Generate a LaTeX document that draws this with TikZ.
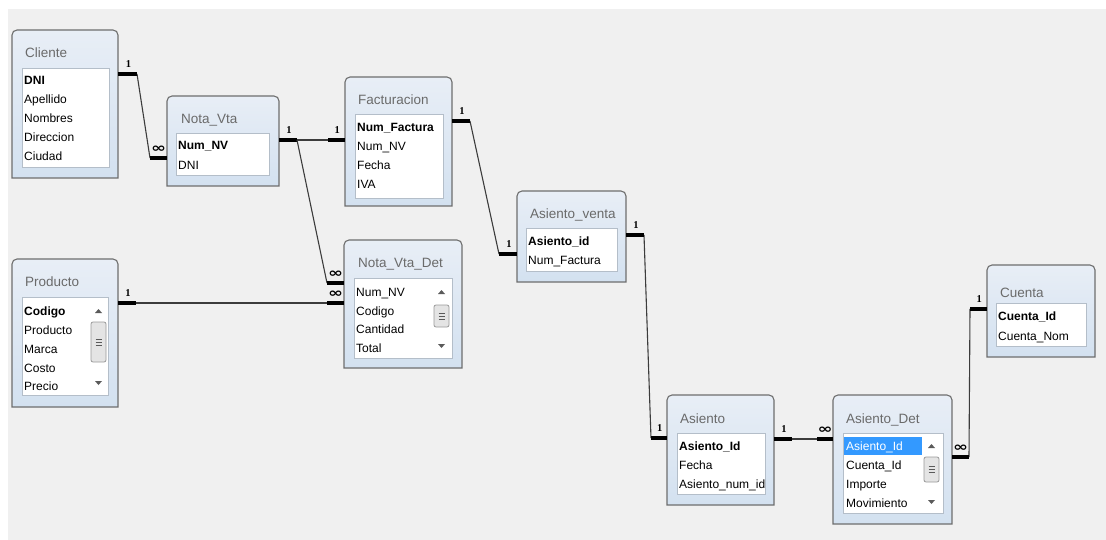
\documentclass[tikz,border=0pt]{standalone}
\usepackage{fontspec}
\usepackage{graphicx}
\setmainfont{Liberation Sans}
\newfontfamily\symfont{DejaVu Sans}
\newfontfamily\onefont{Liberation Serif}
\usetikzlibrary{fit}
\definecolor{bggray}{HTML}{F0F0F0}
\definecolor{frame}{HTML}{6E6E6E}
\definecolor{boxtop}{HTML}{E8EEF6}
\definecolor{boxbot}{HTML}{D3E1F0}
\definecolor{titlegray}{HTML}{6A6A6A}
\definecolor{listedge}{HTML}{B4BEC9}
\definecolor{linegray}{HTML}{3C3C3C}
\definecolor{selblue}{HTML}{3399FF}
\definecolor{arrowgray}{HTML}{5A5A5A}
\definecolor{thumbedge}{HTML}{9A9A9A}
\definecolor{thumbfill}{HTML}{E4E4E4}

\newcommand\dbbox[5]{%
  \node[fit={(#2,#3) (#4,#5)}, inner sep=0pt, outer sep=0pt] (#1) {};
  \path[tblframe] (#1.south west) -- ([yshift=-5pt]#1.north west)
    arc[start angle=180,end angle=90,radius=5pt] -- ([xshift=-5pt]#1.north east)
    arc[start angle=90,end angle=0,radius=5pt] -- (#1.south east) -- cycle;
}
\newcommand\sbar[7]{% name, x1, x2, yup, thumbtop, thumbbot, ydown
  \node[fit={(#2,#4) (#3,#7)}, inner sep=0pt] (#1) {};
  \fill[arrowgray] ({(#2+#3)/2-3.5},{#4+2}) -- ({(#2+#3)/2+3.5},{#4+2}) -- ({(#2+#3)/2},{#4-2}) -- cycle;
  \fill[arrowgray] ({(#2+#3)/2-3.5},{#7-2}) -- ({(#2+#3)/2+3.5},{#7-2}) -- ({(#2+#3)/2},{#7+2}) -- cycle;
  \draw[draw=thumbedge, fill=thumbfill, rounded corners=2pt, line width=0.8pt] ({#2+1},#5) rectangle ({#3-1},#6);
  \draw[arrowgray, line width=0.6pt]
    ({(#2+#3)/2-3},{(#5+#6)/2-3}) -- ({(#2+#3)/2+3},{(#5+#6)/2-3})
    ({(#2+#3)/2-3},{(#5+#6)/2}) -- ({(#2+#3)/2+3},{(#5+#6)/2})
    ({(#2+#3)/2-3},{(#5+#6)/2+3}) -- ({(#2+#3)/2+3},{(#5+#6)/2+3});
}
\newcommand\infsym{\resizebox{15pt}{6.5pt}{\symfont\bfseries ∞}}

\begin{document}
\begin{tikzpicture}[x=1pt,y=-1pt,
  tblframe/.style={draw=frame, line width=1.1pt, top color=boxtop, bottom color=boxbot},
  ttl/.style={anchor=base west, text=titlegray, font=\fontsize{13.5}{14}\selectfont, inner sep=0pt},
  fld/.style={anchor=base west, font=\fontsize{12}{13}\selectfont, inner sep=0pt},
  pk/.style={anchor=base west, font=\fontsize{12}{13}\selectfont\bfseries, inner sep=0pt},
  flist/.style={fill=white, draw=listedge, line width=0.8pt},
  thinrel/.style={draw=linegray, line width=1.1pt},
  stubrel/.style={draw=black, line width=3.3pt},
  one/.style={pos=0.55, anchor=south, yshift=4.5pt, inner sep=0pt, font=\onefont\bfseries\fontsize{10.5}{10.5}\selectfont},
  many/.style={pos=0.5, anchor=south, yshift=3.5pt, inner sep=0pt}
]
\useasboundingbox (0,0) rectangle (1106,540);
\fill[white] (0,0) rectangle (1106,540);
\fill[bggray] (8,9) rectangle (1106,540);

% ---------- Cliente ----------
\dbbox{cliente}{12}{30}{118}{178}
\node[ttl] (cliente-t) at (25,58) {Cliente};
\draw[flist] (22,68) rectangle (109,167);
\node[pk]  (cliente-f1) at (24,85)  {DNI};
\node[fld] (cliente-f2) at (24,104) {Apellido};
\node[fld] (cliente-f3) at (24,123) {Nombres};
\node[fld] (cliente-f4) at (24,142) {Direccion};
\node[fld] (cliente-f5) at (24,161) {Ciudad};

% ---------- Nota_Vta ----------
\dbbox{nvta}{167}{96}{279}{186}
\node[ttl] (nvta-t) at (181,124) {Nota\_Vta};
\draw[flist] (176,133) rectangle (269,175);
\node[pk]  (nvta-f1) at (178,150) {Num\_NV};
\node[fld] (nvta-f2) at (178,170) {DNI};

% ---------- Facturacion ----------
\dbbox{fact}{345}{77}{452}{206}
\node[ttl] (fact-t) at (358,105) {Facturacion};
\draw[flist] (355,114) rectangle (443,198);
\node[pk]  (fact-f1) at (357,132) {Num\_Factura};
\node[fld] (fact-f2) at (357,151) {Num\_NV};
\node[fld] (fact-f3) at (357,170) {Fecha};
\node[fld] (fact-f4) at (357,189) {IVA};

% ---------- Producto ----------
\dbbox{prod}{12}{259}{118}{407}
\node[ttl] (prod-t) at (25,287) {Producto};
\draw[flist] (22,297) rectangle (108,395);
\node[pk]  (prod-f1) at (24,315) {Codigo};
\node[fld] (prod-f2) at (24,334) {Producto};
\node[fld] (prod-f3) at (24,353) {Marca};
\node[fld] (prod-f4) at (24,372) {Costo};
\node[fld] (prod-f5) at (24,390) {Precio};
\sbar{prod-s}{90}{107}{311}{322}{362}{383}

% ---------- Nota_Vta_Det ----------
\dbbox{nvd}{344}{240}{462}{368}
\node[ttl] (nvd-t) at (358,268) {Nota\_Vta\_Det};
\draw[flist] (354,278) rectangle (452,358);
\node[fld] (nvd-f1) at (356,296) {Num\_NV};
\node[fld] (nvd-f2) at (356,315) {Codigo};
\node[fld] (nvd-f3) at (356,333) {Cantidad};
\node[fld] (nvd-f4) at (356,352) {Total};
\sbar{nvd-s}{433}{450}{292}{305}{327}{346}

% ---------- Asiento_venta ----------
\dbbox{av}{517}{191}{626}{282}
\node[ttl] (av-t) at (530,219) {Asiento\_venta};
\draw[flist] (526,228) rectangle (617,271);
\node[pk]  (av-f1) at (528,246) {Asiento\_id};
\node[fld] (av-f2) at (528,265) {Num\_Factura};

% ---------- Asiento ----------
\dbbox{as}{667}{395}{774}{505}
\node[ttl] (as-t) at (680,423) {Asiento};
\draw[flist] (677,433) rectangle (765,494);
\node[pk]  (as-f1) at (679,450) {Asiento\_Id};
\node[fld] (as-f2) at (679,469) {Fecha};
\begin{scope}
  \clip (677,433) rectangle (764.5,494);
  \node[fld] (as-f3) at (679,488) {Asiento\_num\_id};
\end{scope}

% ---------- Asiento_Det ----------
\dbbox{ad}{833}{395}{952}{524}
\node[ttl] (ad-t) at (846,423) {Asiento\_Det};
\draw[flist] (843,433) rectangle (943,513);
\fill[selblue] (844,437) rectangle (922,455);
\node[fld, text=white] (ad-f1) at (846,450) {Asiento\_Id};
\node[fld] (ad-f2) at (846,469) {Cuenta\_Id};
\node[fld] (ad-f3) at (846,488) {Importe};
\node[fld] (ad-f4) at (846,507) {Movimiento};
\sbar{ad-s}{923}{940}{446}{457}{482}{502}

% ---------- Cuenta ----------
\dbbox{cta}{987}{265}{1095}{357}
\node[ttl] (cta-t) at (1000,297) {Cuenta};
\draw[flist] (996,303) rectangle (1086,346);
\node[pk]  (cta-f1) at (998,320) {Cuenta\_Id};
\node[fld] (cta-f2) at (998,340) {Cuenta\_Nom};

% ---------- Relationships ----------
% Cliente -> Nota_Vta
\path (cliente.east |- 0,74) coordinate (r1s) ++(19,0) coordinate (r1a);
\path (nvta.west |- 0,158) coordinate (r1e) ++(-17,0) coordinate (r1b);
\draw[thinrel] (r1a) -- (r1b);
\draw[stubrel] (r1s) -- (r1a) node[one] (r1l1) {1};
\draw[stubrel] (r1b) -- (r1e) node[many] (r1l2) {\infsym};

% Nota_Vta -> Facturacion
\path (nvta.east |- 0,140) coordinate (r2s) ++(18,0) coordinate (r2a);
\path (fact.west |- 0,140) coordinate (r2e) ++(-17,0) coordinate (r2b);
\draw[thinrel] (r2a) -- (r2b);
\draw[stubrel] (r2s) -- (r2a) node[one] (r2l1) {1};
\draw[stubrel] (r2b) -- (r2e) node[one] (r2l2) {1};

% Nota_Vta -> Nota_Vta_Det
\path (nvd.west |- 0,283) coordinate (r3e) ++(-17,0) coordinate (r3b);
\draw[thinrel] (r2a) -- (r3b);
\draw[stubrel] (r3b) -- (r3e) node[many] (r3l) {\infsym};

% Producto -> Nota_Vta_Det
\path (prod.east |- 0,303) coordinate (r4s) ++(18,0) coordinate (r4a);
\path (nvd.west |- 0,303) coordinate (r4e) ++(-17,0) coordinate (r4b);
\draw[thinrel] (r4a) -- (r4b);
\draw[stubrel] (r4s) -- (r4a) node[one] (r4l1) {1};
\draw[stubrel] (r4b) -- (r4e) node[many] (r4l2) {\infsym};

% Facturacion -> Asiento_venta
\path (fact.east |- 0,121) coordinate (r5s) ++(18,0) coordinate (r5a);
\path (av.west |- 0,254) coordinate (r5e) ++(-18,0) coordinate (r5b);
\draw[thinrel] (r5a) -- (r5b);
\draw[stubrel] (r5s) -- (r5a) node[one] (r5l1) {1};
\draw[stubrel] (r5b) -- (r5e) node[one] (r5l2) {1};

% Asiento_venta -> Asiento
\path (av.east |- 0,235) coordinate (r6s) ++(18,0) coordinate (r6a);
\path (as.west |- 0,438) coordinate (r6e) ++(-16,0) coordinate (r6b);
\draw[thinrel] (r6a) -- (r6b);
\draw[stubrel] (r6s) -- (r6a) node[one] (r6l1) {1};
\draw[stubrel] (r6b) -- (r6e) node[one] (r6l2) {1};

% Asiento -> Asiento_Det
\path (as.east |- 0,439) coordinate (r7s) ++(18,0) coordinate (r7a);
\path (ad.west |- 0,439) coordinate (r7e) ++(-16,0) coordinate (r7b);
\draw[thinrel] (r7a) -- (r7b);
\draw[stubrel] (r7s) -- (r7a) node[one] (r7l1) {1};
\draw[stubrel] (r7b) -- (r7e) node[many] (r7l2) {\infsym};

% Asiento_Det -> Cuenta
\path (ad.east |- 0,457) coordinate (r8s) ++(17,0) coordinate (r8a);
\path (cta.west |- 0,309) coordinate (r8e) ++(-17,0) coordinate (r8b);
\draw[thinrel] (r8a) -- (r8b);
\draw[stubrel] (r8s) -- (r8a) node[many] (r8l1) {\infsym};
\draw[stubrel] (r8b) -- (r8e) node[one] (r8l2) {1};
\end{tikzpicture}
\end{document}
